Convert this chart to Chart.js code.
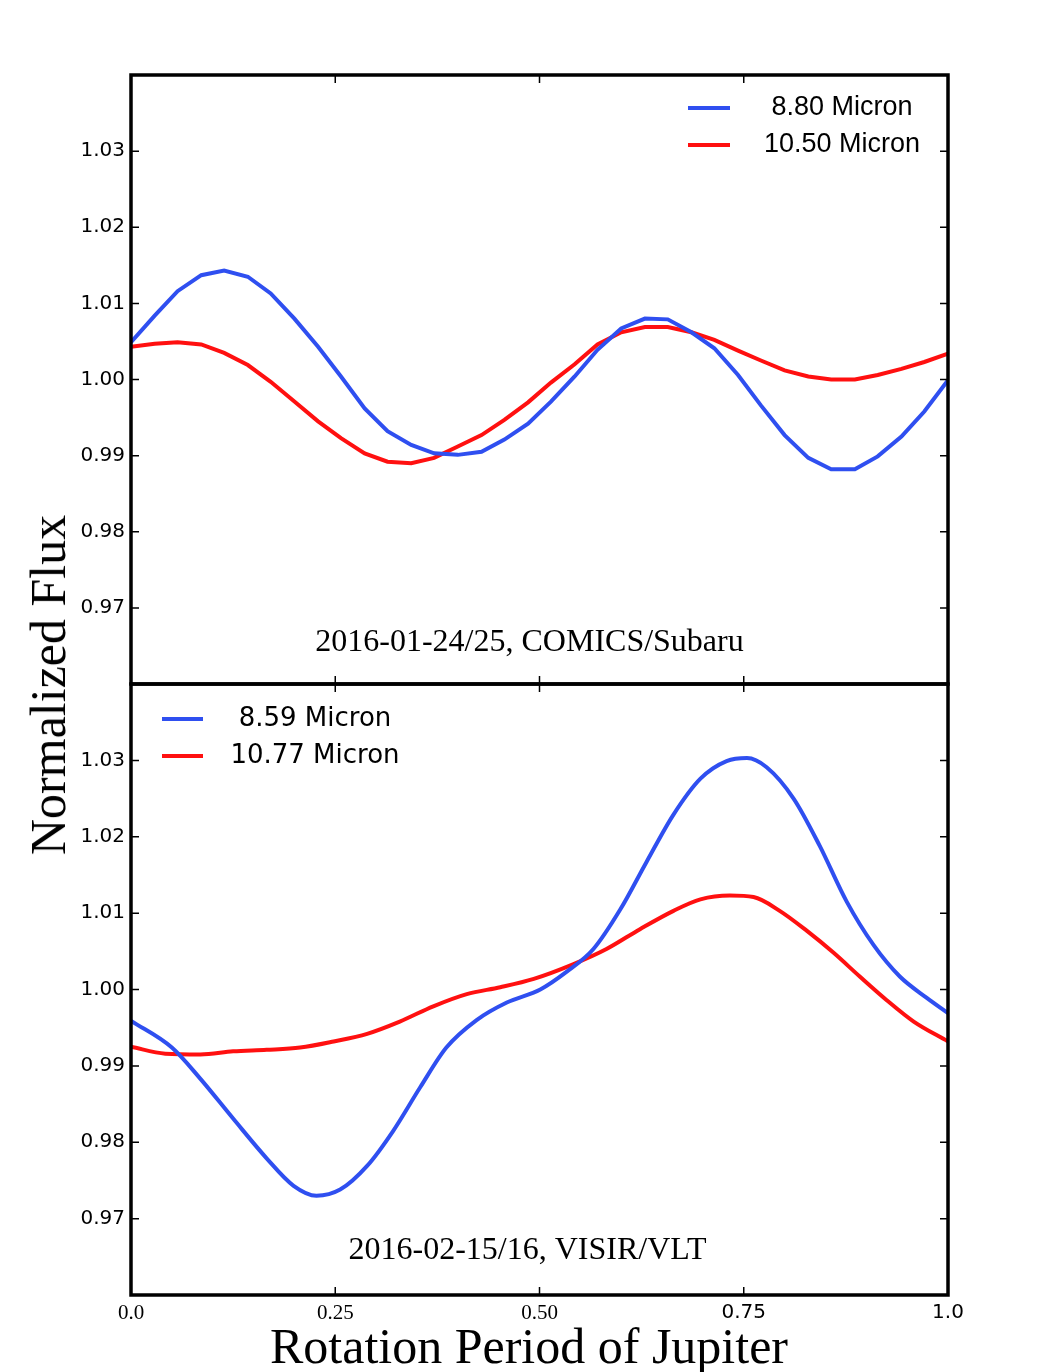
<!DOCTYPE html>
<html>
<head>
<meta charset="utf-8">
<script src="https://cdn.jsdelivr.net/npm/chart.js@4.4.1/dist/chart.umd.min.js"></script>
<style>
  body { margin: 0; background: #fff; }
  #wrap { position: relative; width: 1059px; height: 1372px; overflow: hidden; background: #fff; }
  canvas { position: absolute; left: 0; }
  #topChart { top: 0; }
  #bottomChart { top: 666px; }
  .figlabel { position: absolute; font-family: "Liberation Serif", serif; font-size: 50px; line-height: 1; white-space: nowrap; color: #000; }
  #ylabel { left: 48px; top: 685px; transform: translate(-50%, -50%) rotate(-90deg); }
  #xlabel { left: 529px; top: 1346px; transform: translate(-50%, -50%); }
</style>
</head>
<body>
<div id="wrap">
  <canvas id="topChart" width="1059" height="702"></canvas>
  <canvas id="bottomChart" width="1059" height="706"></canvas>
  <div class="figlabel" id="ylabel">Normalized Flux</div>
  <div class="figlabel" id="xlabel">Rotation Period of Jupiter</div>
</div>
<script>
// tick values and labels
var yTicks = [0.97, 0.98, 0.99, 1.00, 1.01, 1.02, 1.03];
var xTicks = [0, 0.25, 0.5, 0.75, 1];
var xTickLabels = ['0.0', '0.25', '0.50', '0.75', '1.0'];

// top panel: 2016-01-24/25, COMICS/Subaru
var topPhase = [0, 0.029, 0.057, 0.086, 0.114, 0.143, 0.171, 0.2, 0.229, 0.257, 0.286, 0.314,
  0.343, 0.371, 0.4, 0.429, 0.457, 0.486, 0.514, 0.543, 0.571, 0.6, 0.629, 0.657,
  0.686, 0.714, 0.743, 0.771, 0.8, 0.829, 0.857, 0.886, 0.914, 0.943, 0.971, 1.0];
var flux880 = [1.0049, 1.0084, 1.0116, 1.0137, 1.0143, 1.0135, 1.0113, 1.0080, 1.0043, 1.0004, 0.9962, 0.9932,
  0.9914, 0.9903, 0.9901, 0.9905, 0.9921, 0.9942, 0.9971, 1.0004, 1.0039, 1.0067, 1.0080, 1.0079,
  1.0062, 1.0041, 1.0006, 0.9966, 0.9927, 0.9897, 0.9882, 0.9882, 0.9899, 0.9925, 0.9958, 0.9999];
var flux1050 = [1.0043, 1.0047, 1.0049, 1.0046, 1.0035, 1.0019, 0.9997, 0.9971, 0.9945, 0.9923, 0.9903, 0.9892,
  0.9890, 0.9897, 0.9912, 0.9927, 0.9947, 0.9970, 0.9996, 1.0020, 1.0046, 1.0062, 1.0069, 1.0069,
  1.0062, 1.0052, 1.0038, 1.0025, 1.0012, 1.0004, 1.0000, 1.0000, 1.0006, 1.0014, 1.0023, 1.0034];

// bottom panel: 2016-02-15/16, VISIR/VLT
var phase859 = [0.000, 0.050, 0.085, 0.125, 0.166, 0.199, 0.227, 0.256, 0.289, 0.321, 0.354, 0.386,
  0.423, 0.460, 0.501, 0.533, 0.566, 0.599, 0.631, 0.664, 0.697, 0.729, 0.754, 0.778,
  0.811, 0.843, 0.876, 0.909, 0.941, 0.974, 1.000];
var flux859 = [0.9959, 0.9924, 0.9883, 0.9831, 0.9779, 0.9743, 0.9730, 0.9738, 0.9769, 0.9815, 0.9872, 0.9924,
  0.9960, 0.9983, 1.0000, 1.0023, 1.0053, 1.0105, 1.0167, 1.0229, 1.0276, 1.0299, 1.0303, 1.0291,
  1.0250, 1.0188, 1.0115, 1.0058, 1.0017, 0.9989, 0.9969];
var phase1077 = [0.000, 0.042, 0.085, 0.125, 0.166, 0.207, 0.248, 0.289, 0.329, 0.370, 0.411, 0.452,
  0.493, 0.541, 0.582, 0.623, 0.664, 0.697, 0.733, 0.762, 0.794, 0.827, 0.860, 0.892,
  0.925, 0.958, 1.000];
var flux1077 = [0.9925, 0.9916, 0.9915, 0.9919, 0.9921, 0.9924, 0.9932, 0.9942, 0.9958, 0.9978, 0.9994, 1.0003,
  1.0014, 1.0033, 1.0053, 1.0079, 1.0103, 1.0118, 1.0123, 1.0121, 1.0103, 1.0077, 1.0048, 1.0017,
  0.9986, 0.9958, 0.9932];

var blue = '#2f4ff0';
var red = '#ff1010';

function pts(xs, ys) {
  return xs.map(function (x, i) { return { x: x, y: ys[i] }; });
}

// frame, inward ticks, legend and note inside the plot
var panelPlugin = {
  id: 'panel',
  afterDatasetsDraw: function (chart, args, opts) {
    var ctx = chart.ctx, a = chart.chartArea;
    var sx = chart.scales.x, sy = chart.scales.y;
    ctx.save();
    ctx.strokeStyle = '#000';
    ctx.lineWidth = 1.5;
    ctx.beginPath();
    yTicks.forEach(function (v) {
      var py = sy.getPixelForValue(v);
      ctx.moveTo(a.left, py); ctx.lineTo(a.left + 8, py);
      ctx.moveTo(a.right, py); ctx.lineTo(a.right - 8, py);
    });
    xTicks.slice(1, -1).forEach(function (v) {
      var px = sx.getPixelForValue(v);
      ctx.moveTo(px, a.top); ctx.lineTo(px, a.top + 8);
      ctx.moveTo(px, a.bottom); ctx.lineTo(px, a.bottom - 8);
    });
    ctx.stroke();
    ctx.lineWidth = 3.5;
    ctx.strokeRect(a.left, a.top, a.right - a.left, a.bottom - a.top);

    // legend
    var lg = opts.legend;
    ctx.font = lg.font;
    ctx.textAlign = 'center';
    ctx.textBaseline = 'middle';
    chart.data.datasets.forEach(function (ds, i) {
      var y = a.top + lg.top + i * lg.gap;
      ctx.strokeStyle = ds.borderColor;
      ctx.lineWidth = 4;
      ctx.beginPath();
      ctx.moveTo(a.left + lg.lineFrom, y);
      ctx.lineTo(a.left + lg.lineTo, y);
      ctx.stroke();
      ctx.fillStyle = '#000';
      ctx.fillText(ds.label, a.left + lg.textAt, y);
    });

    // panel note
    ctx.font = '32px "Liberation Serif"';
    ctx.fillStyle = '#000';
    ctx.fillText(opts.note.text, chart.width / 2 + opts.note.dx, sy.getPixelForValue(opts.note.at));
    ctx.restore();
  }
};

function yScale() {
  return {
    min: 0.96, max: 1.04,
    afterBuildTicks: function (s) { s.ticks = yTicks.map(function (v) { return { value: v }; }); },
    afterFit: function (s) { s.width = 131; },
    grid: { display: false, drawTicks: false },
    border: { display: false },
    ticks: {
      color: '#000', padding: 6,
      font: { family: 'DejaVu Sans', size: 20 },
      callback: function (v) { return Number(v).toFixed(2); }
    }
  };
}

function xScale(show) {
  return {
    type: 'linear', min: 0, max: 1,
    display: show,
    afterBuildTicks: function (s) { s.ticks = xTicks.map(function (v) { return { value: v }; }); },
    afterFit: function (s) { s.height = show ? 77 : 0; },
    grid: { display: false, drawTicks: false },
    border: { display: false },
    ticks: {
      color: '#000', padding: 6, maxRotation: 0,
      font: function (c) {
        return c.index < 3 ? { family: 'Liberation Serif', size: 21 } : { family: 'DejaVu Sans', size: 20 };
      },
      callback: function (v, i) { return xTickLabels[i]; }
    }
  };
}

Chart.defaults.animation = false;

var topGraph = new Chart(document.getElementById('topChart').getContext('2d'), {
  type: 'line',
  data: {
    datasets: [
      { label: '8.80 Micron', data: pts(topPhase, flux880), borderColor: blue, borderWidth: 4, pointRadius: 0, tension: 0 },
      { label: '10.50 Micron', data: pts(topPhase, flux1050), borderColor: red, borderWidth: 4, pointRadius: 0, tension: 0 }
    ]
  },
  options: {
    responsive: false,
    devicePixelRatio: 1,
    layout: { padding: { top: 75, bottom: 18, left: 0, right: 111 } },
    scales: { x: xScale(false), y: yScale() },
    plugins: {
      legend: { display: false },
      tooltip: { enabled: false },
      panel: {
        legend: { font: '27px "Liberation Sans"', top: 33, gap: 37, lineFrom: 557, lineTo: 599, textAt: 711 },
        note: { text: '2016-01-24/25, COMICS/Subaru', at: 0.96545, dx: 0 }
      }
    }
  },
  plugins: [panelPlugin]
});

var bottomGraph = new Chart(document.getElementById('bottomChart').getContext('2d'), {
  type: 'line',
  data: {
    datasets: [
      { label: '8.59 Micron', data: pts(phase859, flux859), borderColor: blue, borderWidth: 4, pointRadius: 0, cubicInterpolationMode: 'monotone' },
      { label: '10.77 Micron', data: pts(phase1077, flux1077), borderColor: red, borderWidth: 4, pointRadius: 0, cubicInterpolationMode: 'monotone' }
    ]
  },
  options: {
    responsive: false,
    devicePixelRatio: 1,
    layout: { padding: { top: 18, bottom: 0, left: 0, right: 111 } },
    scales: { x: xScale(true), y: yScale() },
    plugins: {
      legend: { display: false },
      tooltip: { enabled: false },
      panel: {
        legend: { font: '26px "DejaVu Sans"', top: 35, gap: 37, lineFrom: 31, lineTo: 72, textAt: 184 },
        note: { text: '2016-02-15/16, VISIR/VLT', at: 0.96584, dx: -2 }
      }
    }
  },
  plugins: [panelPlugin]
});
</script>
</body>
</html>
